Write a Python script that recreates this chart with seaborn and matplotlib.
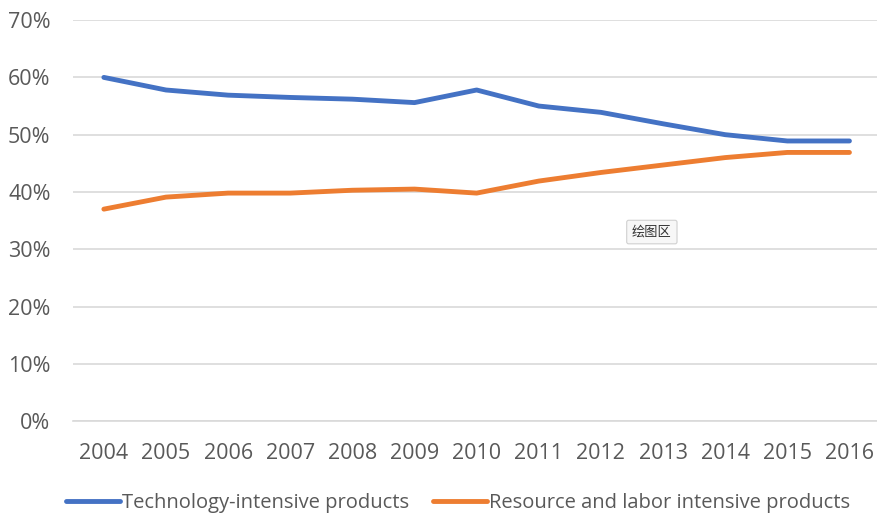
import matplotlib
matplotlib.use("Agg")
import matplotlib.pyplot as plt
import matplotlib.ticker as mticker
import pandas as pd
import seaborn as sns

# Data
years = list(range(2004, 2017))
tech = [60.0, 57.8, 56.9, 56.5, 56.2, 55.6, 57.8, 55.0, 53.9, 51.9, 50.0, 48.9, 48.9]
resource = [37.0, 39.1, 39.8, 39.8, 40.3, 40.5, 39.8, 41.9, 43.4, 44.7, 46.0, 46.9, 46.9]
series_names = ["Technology-intensive products", "Resource and labor intensive products"]
colors = ["#4472C4", "#ED7D31"]

data = pd.DataFrame({
    "year": years * 2,
    "share": tech + resource,
    "series": [series_names[0]] * len(years) + [series_names[1]] * len(years),
})

sns.set_style("white")
plt.rcParams["font.family"] = ["Open Sans", "DejaVu Sans"]

fig = plt.figure(figsize=(8.77, 5.16), dpi=100)
ax = fig.add_axes([0.083, 0.184, 0.921, 0.777])

sns.lineplot(data=data, x="year", y="share", hue="series", palette=colors,
             linewidth=3.5, ax=ax, solid_capstyle="round")

ax.set_xlim(2003.5, 2016.5)
ax.set_ylim(0, 70)
ax.set_xticks(years)
ax.set_yticks(range(0, 71, 10))
ax.yaxis.set_major_formatter(mticker.FuncFormatter(lambda v, p: f"{int(v)}%"))
ax.grid(axis="y", color="#D9D9D9", linewidth=1.2)
ax.set_axisbelow(True)
ax.tick_params(axis="both", length=0, labelsize=15.5, colors="#595959")
ax.tick_params(axis="x", pad=16)
ax.tick_params(axis="y", pad=16)
for s in ["left", "right", "top"]:
    ax.spines[s].set_visible(False)
ax.spines["bottom"].set_color("#D9D9D9")
ax.spines["bottom"].set_linewidth(1.2)
ax.set_xlabel("")
ax.set_ylabel("")

leg = ax.legend(loc="center", bbox_to_anchor=(0.477, -0.204), ncol=2, frameon=False,
                fontsize=14.5, handlelength=2.65, handletextpad=0.1, columnspacing=1.2)
for t in leg.get_texts():
    t.set_color("#595959")

# Excel tooltip captured in the screenshot
ax.text(2012.82, 33.0, "绘图区", family=["Noto Sans CJK SC", "DejaVu Sans"], fontsize=9.5,
        color="#333333", ha="center", va="center",
        bbox=dict(boxstyle="round,pad=0.4,rounding_size=0.15", facecolor="#F7F7F7",
                  edgecolor="#D0D0D0", linewidth=0.8))

fig.savefig("out.png", dpi=100)
